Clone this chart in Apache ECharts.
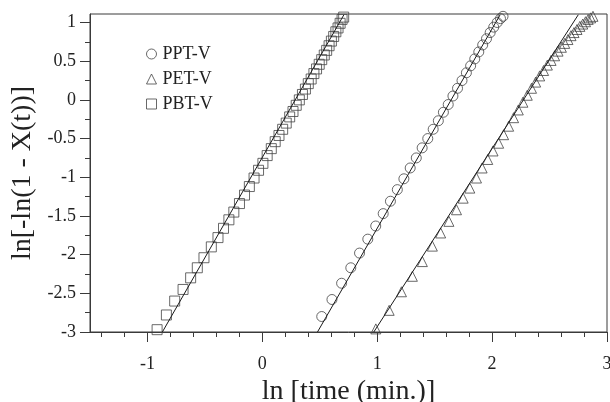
<!DOCTYPE html>
<html>
<head>
<meta charset="utf-8">
<script src="https://cdn.jsdelivr.net/npm/echarts@6/dist/echarts.min.js"></script>
<style>
  html, body { margin: 0; padding: 0; background: #fff; }
  #chart { width: 610px; height: 402px; }
</style>
</head>
<body>
<div id="chart"></div>
<script>
// Avrami plot: ln[-ln(1 - X(t))] against ln t for the three polyesters
const pptX = [0.517, 0.606, 0.690, 0.770, 0.846, 0.918, 0.987, 1.052, 1.115, 1.175, 1.232, 1.287, 1.340, 1.391, 1.440, 1.487, 1.532, 1.576, 1.618, 1.659, 1.699, 1.738, 1.776, 1.813, 1.849, 1.884, 1.918, 1.951, 1.983, 2.014, 2.044, 2.073, 2.095];
const pptY = [-2.80, -2.58, -2.37, -2.17, -1.98, -1.80, -1.63, -1.47, -1.31, -1.16, -1.02, -0.88, -0.75, -0.62, -0.50, -0.38, -0.27, -0.16, -0.06, 0.05, 0.15, 0.25, 0.35, 0.44, 0.53, 0.62, 0.71, 0.79, 0.87, 0.94, 1.00, 1.05, 1.08];

const petX = [0.988, 1.104, 1.211, 1.306, 1.393, 1.480, 1.552, 1.624, 1.690, 1.748, 1.806, 1.864, 1.913, 1.962, 2.008, 2.057, 2.100, 2.144, 2.187, 2.228, 2.268, 2.306, 2.343, 2.379, 2.414, 2.448, 2.481, 2.513, 2.544, 2.574, 2.603, 2.632, 2.660, 2.687, 2.713, 2.739, 2.764, 2.789, 2.813, 2.836, 2.858, 2.878];
const petY = [-2.96, -2.72, -2.48, -2.28, -2.09, -1.89, -1.72, -1.57, -1.42, -1.27, -1.14, -1.01, -0.88, -0.77, -0.66, -0.56, -0.45, -0.34, -0.23, -0.13, -0.03, 0.06, 0.15, 0.23, 0.31, 0.38, 0.45, 0.51, 0.57, 0.63, 0.68, 0.73, 0.78, 0.83, 0.87, 0.91, 0.95, 0.98, 1.01, 1.04, 1.06, 1.08];

const pbtX = [-0.916, -0.835, -0.763, -0.690, -0.624, -0.566, -0.508, -0.444, -0.386, -0.338, -0.291, -0.248, -0.199, -0.155, -0.113, -0.072, -0.033, 0.005, 0.042, 0.078, 0.112, 0.145, 0.177, 0.208, 0.238, 0.267, 0.295, 0.322, 0.349, 0.375, 0.400, 0.425, 0.449, 0.472, 0.495, 0.517, 0.539, 0.560, 0.581, 0.601, 0.621, 0.640, 0.659, 0.677, 0.694, 0.708];
const pbtY = [-2.97, -2.78, -2.60, -2.45, -2.30, -2.17, -2.04, -1.90, -1.78, -1.66, -1.55, -1.45, -1.34, -1.23, -1.12, -1.01, -0.91, -0.82, -0.72, -0.63, -0.54, -0.46, -0.38, -0.30, -0.22, -0.15, -0.07, 0.00, 0.07, 0.14, 0.21, 0.27, 0.34, 0.40, 0.46, 0.52, 0.58, 0.64, 0.70, 0.76, 0.82, 0.88, 0.93, 0.99, 1.04, 1.07];

// straight-line fits, given by their two end points [x, y]
const pptFit = [[0.48, -3.0], [2.07, 1.10]];
const petFit = [[0.97, -3.0], [2.75, 1.10]];
const pbtFit = [[-0.87, -3.0], [0.71, 1.10]];

// axis extents and tick values
const xRange = [-1.5, 3];
const yRange = [-3, 1.11];
const xMajor = [-1, 0, 1, 2, 3];
const xMinor = [-1.4, -1.2, -0.8, -0.6, -0.4, -0.2, 0.2, 0.4, 0.6, 0.8, 1.2, 1.4, 1.6, 1.8, 2.2, 2.4, 2.6, 2.8];
const yMajor = [-3, -2.5, -2, -1.5, -1, -0.5, 0, 0.5, 1];
const yMinor = [-2.75, -2.25, -1.75, -1.25, -0.75, -0.25, 0.25, 0.75];

const seriesNames = ['PPT-V', 'PET-V', 'PBT-V'];
const symbols = ['circle', 'triangle', 'rect'];

const FONT = 'Liberation Serif, Times New Roman, serif';
const AXIS = '#3a3a3a';
const MARK = '#444';

const zip = (xs, ys) => xs.map((x, i) => [x, ys[i]]);

const markerStyle = { color: 'rgba(0,0,0,0)', borderColor: MARK, borderWidth: 1 };

function scatter(name, symbol, xs, ys) {
  return {
    name, type: 'scatter', symbol, symbolSize: 10,
    data: zip(xs, ys), itemStyle: markerStyle, z: 3, silent: true
  };
}
function fit(name, pts) {
  return {
    name, type: 'line', data: pts, symbol: 'none', z: 4, silent: true,
    lineStyle: { color: '#1a1a1a', width: 1 }
  };
}

const chart = echarts.init(document.getElementById('chart'), null, { renderer: 'canvas' });
chart.setOption({
  animation: false,
  backgroundColor: '#fff',
  grid: {
    left: 90, right: 3, top: 14, bottom: 70,
    show: true, borderColor: AXIS, borderWidth: 1,
    containLabel: false, outerBoundsMode: 'none'
  },
  legend: {
    orient: 'vertical', left: 141, top: 40,
    itemWidth: 10, itemHeight: 10, itemGap: 7,
    data: seriesNames.map(n => ({ name: n, itemStyle: markerStyle })),
    textStyle: { fontFamily: FONT, fontSize: 18, color: '#222', padding: [0, 0, 0, 1] },
    selectedMode: false
  },
  xAxis: [
    {
      type: 'value', min: xRange[0], max: xRange[1], position: 'bottom',
      axisLine: { show: true, onZero: false, lineStyle: { color: AXIS, width: 1 } },
      axisTick: { show: true, inside: false, length: 10, customValues: xMajor, lineStyle: { color: AXIS } },
      axisLabel: { customValues: xMajor, margin: 23, fontFamily: FONT, fontSize: 18, color: '#222' },
      splitLine: { show: false },
      name: 'ln [time (min.)]', nameLocation: 'middle', nameGap: 46,
      nameTextStyle: { fontFamily: FONT, fontSize: 28, color: '#222' }
    },
    {
      type: 'value', min: xRange[0], max: xRange[1], position: 'bottom',
      axisLine: { show: false, onZero: false },
      axisTick: { show: true, inside: false, length: 5, customValues: xMinor, lineStyle: { color: AXIS } },
      axisLabel: { show: false },
      splitLine: { show: false }
    }
  ],
  yAxis: [
    {
      type: 'value', min: yRange[0], max: yRange[1], position: 'left',
      axisLine: { show: true, onZero: false, lineStyle: { color: AXIS, width: 1 } },
      axisTick: { show: true, inside: false, length: 10, customValues: yMajor, lineStyle: { color: AXIS } },
      axisLabel: { customValues: yMajor, margin: 14, fontFamily: FONT, fontSize: 18, color: '#222' },
      splitLine: { show: false },
      name: 'ln[-ln(1 - X(t))]', nameLocation: 'middle', nameGap: 51,
      nameTextStyle: { fontFamily: FONT, fontSize: 28, color: '#222' }
    },
    {
      type: 'value', min: yRange[0], max: yRange[1], position: 'left',
      axisLine: { show: false, onZero: false },
      axisTick: { show: true, inside: false, length: 5, customValues: yMinor, lineStyle: { color: AXIS } },
      axisLabel: { show: false },
      splitLine: { show: false }
    }
  ],
  series: [
    scatter(seriesNames[0], symbols[0], pptX, pptY),
    scatter(seriesNames[1], symbols[1], petX, petY),
    scatter(seriesNames[2], symbols[2], pbtX, pbtY),
    fit('PPT-V fit', pptFit),
    fit('PET-V fit', petFit),
    fit('PBT-V fit', pbtFit)
  ]
});
</script>
</body>
</html>
